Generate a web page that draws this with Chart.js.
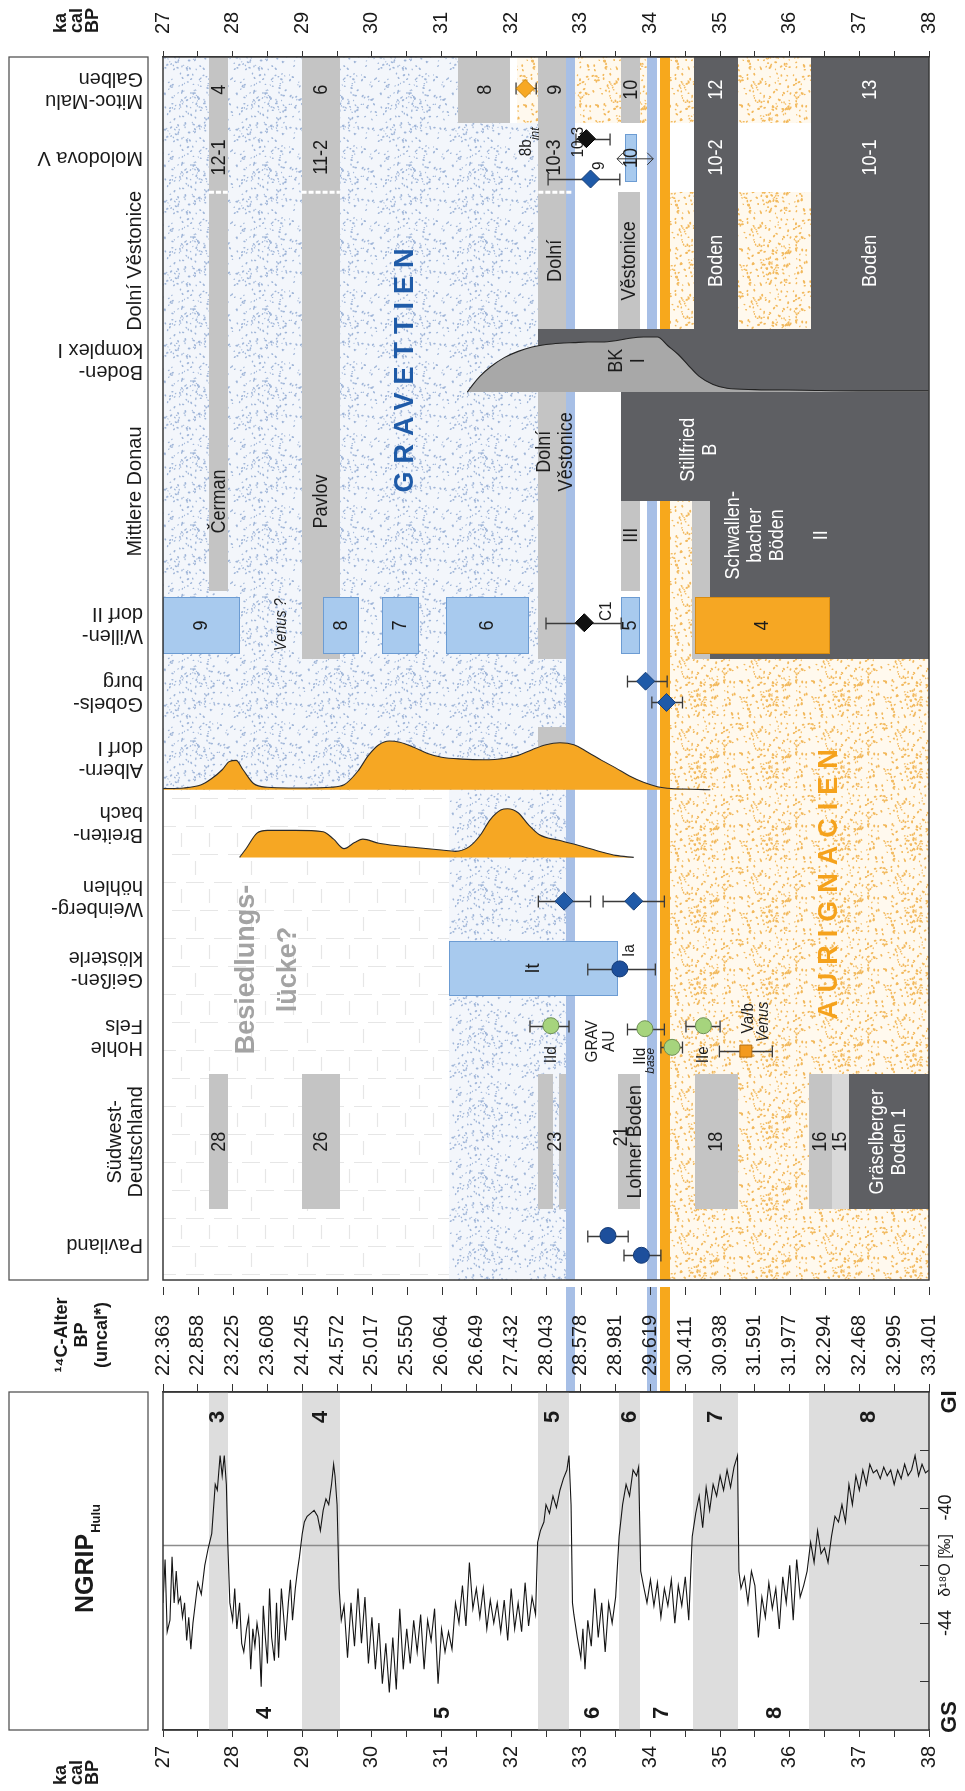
<!DOCTYPE html>
<html lang="de">
<head>
<meta charset="utf-8">
<title>NGRIP, Radiokarbon und Fundstellen 27–38 ka cal BP</title>
<script src="https://cdn.jsdelivr.net/npm/chart.js@4.4.1/dist/chart.umd.min.js"></script>
<style>
  html, body { margin: 0; padding: 0; background: #fff; }
  #sheet { position: relative; width: 965px; height: 1791px; overflow: hidden; background: #fff; }
  #sheet canvas { position: absolute; left: 0; }
</style>
</head>
<body>
<div id="sheet">
  <canvas id="sites" width="965" height="1290" style="top:0"></canvas>
  <canvas id="ngrip" width="965" height="504" style="top:1287px"></canvas>
</div>
<script>
const SANS = "'Liberation Sans', Arial, Helvetica, sans-serif";

// ---------- time axis (ka cal BP) ----------
const kaLabels = ['27', '28', '29', '30', '31', '32', '33', '34', '35', '36', '37', '38'];
// uncalibrated 14C ages at every half ka cal BP from 27 to 38
const c14Labels = ['22.363', '22.858', '23.225', '23.608', '24.245', '24.572', '25.017', '25.550',
  '26.064', '26.649', '27.432', '28.043', '28.578', '28.981', '29.619', '30.411', '30.938',
  '31.591', '31.977', '32.294', '32.468', '32.995', '33.401'];

// ---------- sites (rows of the upper panel) ----------
const sites = ['Mitoc-Malu Galben', 'Molodova V', 'Dolní Věstonice', 'Boden-komplex I', 'Mittlere Donau',
  'Willendorf II', 'Gobelsburg', 'Alberndorf I', 'Breitenbach', 'Weinberghöhlen', 'Geißenklösterle',
  'Hohle Fels', 'Südwest-Deutschland', 'Paviland'];
const siteHeaders = ['Mitoc-Malu\nGalben', 'Molodova V', 'Dolní Věstonice', 'Boden-\nkomplex I', 'Mittlere Donau',
  'Willen-\ndorf II', 'Gobels-\nburg', 'Albern-\ndorf I', 'Breiten-\nbach', 'Weinberg-\nhöhlen', 'Geißen-\nklösterle',
  'Hohle\nFels', 'Südwest-\nDeutschland', 'Paviland'];

// ---------- cultural background, ka ranges over row spans [from, to, firstRow, endRow] ----------
const gravettianSpans = [[27.00, 32.87, 0, 8], [31.10, 32.87, 8, 14]];
const gapSpans = [[27.00, 31.10, 8, 14]];
const aurignacianSpans = [[34.28, 38.00, 6, 14], [34.28, 34.65, 4.55, 6], [32.08, 32.39, 0, 1],
  [32.87, 33.58, 0, 1], [33.85, 33.96, 0, 1], [34.28, 34.63, 0, 1], [35.26, 36.30, 0, 1],
  [34.28, 34.62, 2, 3], [35.26, 36.30, 2, 3]];
const openSpans = [[31.99, 32.08, 0, 1]];
// event markers running through all panels
const markerLines = [[32.79, 32.91, 'blue'], [33.95, 34.10, 'blue'], [34.14, 34.28, 'orange']];

// ---------- stratigraphic units ----------
const loessUnits = [[27.66, 27.93, 0, 5], [28.99, 29.54, 0, 6], [31.24, 31.99, 0, 1], [32.39, 32.87, 0, 3],
  [32.39, 32.87, 4, 6], [33.58, 33.85, 0, 1], [33.54, 33.85, 2, 3], [33.58, 33.85, 4.55, 5],
  [34.60, 34.85, 4.55, 6], [32.39, 32.87, 7, 7.55], [27.66, 27.93, 12, 13], [28.99, 29.54, 12, 13],
  [32.39, 32.60, 12, 13], [32.68, 32.87, 12, 13], [33.54, 33.85, 12, 13], [34.64, 35.26, 12, 13],
  [36.28, 36.60, 12, 13]];
const paleLoessUnits = [[36.60, 36.85, 12, 13]];
const soilUnits = [[34.62, 35.26, 0, 3], [36.30, 38.00, 0, 3], [32.39, 38.00, 3, 4], [33.58, 38.00, 4, 4.55],
  [34.85, 38.00, 4.55, 6], [36.85, 38.00, 12, 13]];

// ---------- archaeological horizons ----------
const blueBoxes = [[27.00, 28.10, 'Willendorf II', '9'], [29.30, 29.81, 'Willendorf II', '8'],
  [30.14, 30.67, 'Willendorf II', '7'], [31.06, 32.26, 'Willendorf II', '6'], [33.58, 33.85, 'Willendorf II', '5'],
  [31.11, 33.54, 'Geißenklösterle', 'It'], [33.63, 33.80, 'Molodova V', '10']];
const orangeBoxes = [[34.64, 36.58, 'Willendorf II', '4']];

// ---------- dated horizons (ka cal BP with range) ----------
const dateSite = ['Mitoc-Malu Galben', 'Molodova V', 'Molodova V', 'Willendorf II', 'Gobelsburg', 'Gobelsburg',
  'Weinberghöhlen', 'Weinberghöhlen', 'Geißenklösterle', 'Hohle Fels', 'Hohle Fels', 'Hohle Fels',
  'Hohle Fels', 'Hohle Fels', 'Paviland', 'Paviland'];
const dateAge = [32.20, 33.08, 33.14, 33.05, 33.93, 34.23, 32.76, 33.76, 33.56, 32.57, 33.92, 34.31, 34.76, 35.37, 33.39, 33.87];
const dateLow = [32.07, 32.93, 32.53, 32.50, 33.67, 34.02, 32.39, 33.32, 33.10, 32.27, 33.67, 34.15, 34.51, 34.99, 33.10, 33.62];
const dateHigh = [32.36, 33.42, 33.56, 33.58, 34.24, 34.46, 33.14, 34.20, 34.07, 32.83, 34.20, 34.46, 35.00, 35.75, 33.68, 34.15];
const dateKind = ['orangeDiamond', 'blackDiamond', 'blueDiamond', 'blackDiamond', 'blueDiamond', 'blueDiamond',
  'blueDiamond', 'blueDiamond', 'blueCircle', 'greenCircle', 'greenCircle', 'greenCircle', 'greenCircle',
  'orangeSquare', 'blueCircle', 'blueCircle'];

// ---------- summed date densities (relative height) ----------
const albernAge = [27.00, 27.30, 27.55, 27.70, 27.85, 27.95, 28.05, 28.15, 28.30, 28.50, 28.80, 29.10, 29.40, 29.60, 29.80,
  29.95, 30.10, 30.25, 30.40, 30.60, 30.80, 31.00, 31.30, 31.60, 31.90, 32.10, 32.30, 32.50, 32.70, 32.90,
  33.10, 33.30, 33.50, 33.70, 33.90, 34.10, 34.30, 34.60, 34.86];
const albernDensity = [0.02, 0.03, 0.08, 0.18, 0.32, 0.45, 0.47, 0.32, 0.10, 0.04, 0.03, 0.03, 0.04, 0.08, 0.30,
  0.55, 0.72, 0.78, 0.76, 0.68, 0.58, 0.52, 0.49, 0.48, 0.50, 0.55, 0.64, 0.72, 0.75, 0.72,
  0.60, 0.47, 0.35, 0.22, 0.12, 0.05, 0.02, 0.01, 0.00];
const breitenAge = [28.10, 28.20, 28.35, 28.50, 28.90, 29.30, 29.45, 29.60, 29.75, 29.87, 30.10, 30.40, 30.70, 31.00,
  31.20, 31.40, 31.55, 31.70, 31.85, 31.95, 32.10, 32.25, 32.40, 32.70, 33.00, 33.30, 33.50, 33.76];
const breitenDensity = [0.00, 0.14, 0.36, 0.40, 0.40, 0.38, 0.27, 0.13, 0.22, 0.27, 0.21, 0.17, 0.14, 0.11,
  0.09, 0.16, 0.32, 0.56, 0.70, 0.72, 0.66, 0.48, 0.34, 0.25, 0.17, 0.08, 0.03, 0.00];
const bkAge = [31.37, 31.45, 31.55, 31.70, 31.90, 32.10, 32.30, 32.50, 32.70, 32.90, 33.10, 33.30, 33.50, 33.70,
  33.90, 34.10, 34.25, 34.40, 34.55, 34.70, 34.90, 35.10, 35.50, 36.20, 37.00, 38.00];
const bkDensity = [0.00, 0.12, 0.25, 0.40, 0.55, 0.65, 0.72, 0.76, 0.78, 0.79, 0.80, 0.80, 0.82, 0.86,
  0.88, 0.88, 0.74, 0.60, 0.42, 0.25, 0.12, 0.06, 0.04, 0.03, 0.02, 0.02];

// ---------- NGRIP (Hulu timescale): [ka cal BP, δ18O ‰] ----------
const ngripRecord = [
  [27.00,-43.3],[27.03,-41.8],[27.06,-44.3],[27.10,-43.9],[27.13,-41.7],[27.16,-43.3],[27.19,-42.2],[27.22,-43.3],
  [27.25,-43.1],[27.28,-43.8],[27.31,-43.3],[27.34,-44.6],[27.37,-43.8],[27.40,-44.9],[27.43,-44.0],[27.46,-43.4],
  [27.50,-42.6],[27.55,-43.0],[27.60,-42.0],[27.65,-41.4],[27.70,-40.9],[27.75,-39.2],[27.78,-39.4],[27.82,-38.2],
  [27.85,-38.9],[27.88,-38.2],[27.91,-39.2],[27.93,-41.2],[27.96,-43.3],[28.00,-43.9],[28.03,-42.8],[28.06,-44.2],
  [28.10,-43.3],[28.13,-44.7],[28.16,-45.0],[28.20,-44.2],[28.23,-43.8],[28.26,-45.6],[28.29,-44.2],[28.32,-44.8],
  [28.35,-44.0],[28.38,-44.5],[28.41,-46.2],[28.44,-43.4],[28.47,-44.5],[28.50,-45.4],[28.53,-42.8],[28.56,-44.5],
  [28.60,-45.3],[28.63,-43.3],[28.66,-45.2],[28.70,-42.8],[28.73,-43.7],[28.76,-44.6],[28.80,-43.3],[28.83,-42.5],
  [28.86,-43.9],[28.90,-42.8],[28.93,-42.2],[28.96,-41.7],[29.00,-40.9],[29.03,-40.5],[29.07,-40.3],[29.12,-40.2],
  [29.17,-40.1],[29.22,-40.3],[29.26,-40.8],[29.30,-40.1],[29.34,-39.7],[29.38,-39.9],[29.42,-39.2],[29.45,-38.5],
  [29.47,-38.9],[29.50,-39.9],[29.53,-42.8],[29.56,-43.9],
  [29.60,-43.4],[29.65,-45.2],[29.70,-43.3],[29.75,-44.8],[29.80,-42.8],[29.85,-44.7],[29.90,-43.1],[29.95,-45.4],
  [30.00,-43.8],[30.05,-45.6],[30.10,-44.0],[30.15,-46.1],[30.20,-44.7],[30.25,-46.4],[30.30,-44.5],[30.35,-46.3],
  [30.40,-43.5],[30.45,-45.6],[30.50,-44.2],[30.55,-45.4],[30.60,-43.9],[30.65,-45.0],[30.70,-43.7],[30.75,-45.6],
  [30.80,-43.9],[30.85,-44.6],[30.90,-43.5],[30.95,-46.1],[31.00,-44.2],[31.05,-45.0],[31.10,-44.3],[31.15,-44.9],
  [31.20,-43.3],[31.25,-44.0],[31.30,-42.7],[31.35,-44.1],[31.40,-41.9],[31.45,-43.5],[31.50,-42.8],[31.55,-43.8],
  [31.60,-42.8],[31.65,-44.2],[31.70,-43.2],[31.75,-44.0],[31.80,-43.3],[31.85,-44.3],[31.90,-43.2],[31.95,-44.6],
  [32.00,-42.8],[32.05,-44.2],[32.10,-43.3],[32.15,-44.3],[32.20,-42.6],[32.25,-44.1],[32.30,-43.1],[32.35,-43.7],
  [32.38,-41.2],[32.42,-40.8],[32.47,-40.5],[32.50,-39.9],[32.55,-40.2],[32.60,-39.6],[32.65,-40.0],[32.70,-39.4],
  [32.75,-39.0],[32.80,-38.7],[32.83,-38.2],[32.86,-39.9],[32.88,-43.3],[32.90,-43.7],[32.95,-44.5],[33.00,-45.2],
  [33.03,-44.2],[33.06,-45.6],[33.10,-43.9],[33.15,-44.8],[33.20,-42.8],[33.25,-44.5],[33.30,-43.3],[33.35,-45.0],
  [33.40,-43.3],[33.45,-44.0],[33.50,-43.1],[33.55,-41.0],[33.60,-39.9],[33.65,-39.2],[33.70,-39.6],[33.75,-38.7],
  [33.80,-38.9],[33.83,-38.6],[33.86,-42.2],[33.90,-42.7],[33.95,-43.3],[34.00,-42.5],[34.05,-43.4],[34.10,-42.6],
  [34.15,-43.8],[34.20,-42.8],[34.25,-43.4],[34.30,-42.5],[34.35,-44.0],[34.40,-42.7],[34.45,-43.4],[34.50,-42.4],
  [34.55,-43.9],[34.60,-41.0],[34.65,-40.2],[34.70,-39.6],[34.75,-40.7],[34.80,-39.3],[34.85,-40.1],[34.90,-39.2],
  [34.95,-39.6],[35.00,-38.9],[35.05,-39.4],[35.10,-38.7],[35.15,-39.3],[35.20,-38.6],[35.25,-38.2],[35.27,-42.2],
  [35.30,-42.8],[35.35,-42.4],[35.40,-43.3],[35.45,-42.2],[35.50,-42.7],[35.55,-44.5],[35.60,-43.1],[35.65,-43.8],
  [35.70,-42.6],[35.75,-43.5],[35.80,-42.8],[35.85,-44.2],[35.90,-42.4],[35.95,-43.3],[36.00,-42.0],[36.05,-43.9],
  [36.10,-41.8],[36.15,-43.1],[36.20,-42.7],[36.25,-42.2],[36.30,-41.2],[36.35,-41.9],[36.40,-40.8],[36.45,-41.6],
  [36.50,-41.4],[36.55,-41.9],[36.60,-41.0],[36.65,-40.3],[36.70,-40.5],[36.75,-39.9],[36.80,-40.5],[36.85,-39.2],
  [36.90,-39.9],[36.95,-38.9],[37.00,-39.4],[37.05,-38.7],[37.10,-39.2],[37.15,-38.5],[37.20,-38.8],[37.25,-38.7],
  [37.30,-39.0],[37.35,-38.6],[37.40,-38.9],[37.45,-38.7],[37.50,-39.2],[37.55,-38.7],[37.60,-39.0],[37.65,-38.5],
  [37.70,-38.9],[37.75,-38.7],[37.80,-38.2],[37.85,-38.9],[37.90,-38.5],[37.95,-38.8],[38.00,-38.7]];
// Greenland interstadials (shaded) and stadials
const giIntervals = [[27.66, 27.93, '3'], [28.99, 29.54, '4'], [32.38, 32.83, '5'], [33.55, 33.85, '6'], [34.61, 35.26, '7'], [36.28, 38.00, '8']];
const gsLabels = [[28.46, '4'], [31.02, '5'], [33.17, '6'], [34.16, '7'], [35.79, '8']];
const d18OThreshold = -41.3;
const d18OTicks = [-38, -40, -42, -44, -46];

// ================= layout & style =================
const rowWeights = [66, 70, 138, 63, 200, 68, 69, 63, 68, 80, 63, 75, 136, 71];
const rowEdges = rowWeights.reduce((a, w) => { a.push(a[a.length - 1] + w); return a; }, [0]);
const rowTotal = rowEdges[rowEdges.length - 1];
function rowPos(r) {
  const i = Math.min(Math.floor(r), rowWeights.length - 1);
  return rowEdges[i] + (r - i) * rowWeights[i];
}
const headerTurn = ['flip', 'flip', 'up', 'flip', 'up', 'flip', 'flip', 'flip', 'flip', 'flip', 'flip', 'flip', 'up', 'flip'];
const blueBoxLane = [[0.09, 0.93], [0.09, 0.93], [0.09, 0.93], [0.09, 0.93], [0.09, 0.93], [0.06, 0.95], [0.17, 0.86]];
const orangeBoxLane = [[0.09, 0.93]];
const dateLane = [0.48, 0.23, 0.81, 0.47, 0.33, 0.64, 0.55, 0.55, 0.51, 0.35, 0.39, 0.64, 0.35, 0.69, 0.37, 0.65];

const C = {
  loess: '#c4c4c4', paleLoess: '#d9d9d9', soil: '#5e5f63',
  blueBox: '#a8caee', blueBoxEdge: '#6c9cd3', orangeBox: '#f6a723', orangeBoxEdge: '#d98c10',
  blueLine: '#a7bfe6', orangeLine: '#f7a81c', frame: '#3a3a3a', text: '#1c1c1c', giBand: '#dddddd'
};
const markStyle = {
  blueDiamond: { pointStyle: 'rectRot', pointRadius: 9, backgroundColor: '#1f5aa8', borderColor: '#173f77' },
  blackDiamond: { pointStyle: 'rectRot', pointRadius: 9, backgroundColor: '#111111', borderColor: '#000000' },
  orangeDiamond: { pointStyle: 'rectRot', pointRadius: 9, backgroundColor: '#f7a823', borderColor: '#c9860f' },
  blueCircle: { pointStyle: 'circle', pointRadius: 8, backgroundColor: '#1d4f9c', borderColor: '#143a75' },
  greenCircle: { pointStyle: 'circle', pointRadius: 8, backgroundColor: '#a6d47d', borderColor: '#6d8f55' },
  orangeSquare: { pointStyle: 'rect', pointRadius: 8.5, backgroundColor: '#f39a1e', borderColor: '#b56d0c' }
};
const labelStyles = {
  k: { size: 21, squeeze: 0.86, lineH: 22 },
  w: { size: 21, squeeze: 0.86, lineH: 22, color: '#ffffff' },
  s: { size: 17, squeeze: 0.9, lineH: 17 },
  si: { size: 16, style: 'italic', squeeze: 0.9 },
  xi: { size: 12, style: 'italic' },
  gap: { size: 27, weight: 'bold', color: '#a3a3a3', lineH: 42 },
  grav: { size: 27, weight: 'bold', color: '#1f5ba8', spacing: 8 },
  aur: { size: 27, weight: 'bold', color: '#f5a21c', spacing: 8 },
  tick: { size: 20, color: '#1a1a1a', align: 'left' }
};
// text written into the upper panel: [ka, row position, text, style]
const unitLabels = [
  [27.80, 0.5, '4', 'k'], [29.27, 0.5, '6', 'k'], [31.62, 0.5, '8', 'k'], [32.63, 0.5, '9', 'k'],
  [33.72, 0.5, '10', 'k'], [34.94, 0.5, '12', 'w'], [37.15, 0.5, '13', 'w'],
  [32.22, 1.36, '8b', 's'], [32.35, 1.16, 'int', 'xi'],
  [27.80, 1.5, '12-1', 'k'], [29.27, 1.5, '11-2', 'k'], [32.62, 1.5, '10-3', 'k'], [32.96, 1.28, '10-3', 's'],
  [33.27, 1.62, '9', 's'], [34.94, 1.5, '10-2', 'w'], [37.15, 1.5, '10-1', 'w'],
  [32.63, 2.5, 'Dolní', 'k'], [33.70, 2.5, 'Věstonice', 'k'], [34.94, 2.5, 'Boden', 'w'], [37.15, 2.5, 'Boden', 'w'],
  [33.66, 3.5, 'BK\nI', 'k'],
  [27.80, 4.55, 'Čerman', 'k'], [29.27, 4.55, 'Pavlov', 'k'], [32.63, 4.3, 'Dolní\nVěstonice', 'k'],
  [34.70, 4.29, 'Stillfried\nB', 'w'], [33.72, 4.72, 'III', 'k'], [35.50, 4.72, 'Schwallen-\nbacher\nBöden', 'w'],
  [36.45, 4.72, 'II', 'w'],
  [33.37, 5.3, 'C1', 's'], [28.70, 5.5, 'Venus ?', 'si'],
  [33.70, 10.22, 'Ia', 's'],
  [33.28, 11.56, 'GRAV\nAU', 's'], [32.57, 11.74, 'IId', 's'], [33.85, 11.76, 'IId', 's'], [34.00, 11.82, 'base', 'xi'],
  [34.76, 11.74, 'IIe', 's'], [35.40, 11.25, 'Va/b', 's'], [35.62, 11.3, 'Venus', 'si'],
  [27.80, 12.5, '28', 'k'], [29.27, 12.5, '26', 'k'], [32.63, 12.5, '23', 'k'], [33.58, 12.46, '21', 'k'],
  [33.78, 12.5, 'Lohner Boden', 'k'], [34.95, 12.5, '18', 'k'], [36.44, 12.5, '16', 'k'], [36.72, 12.5, '15', 'k'],
  [37.42, 12.5, 'Gräselberger\nBoden 1', 'w'],
  [28.50, 10.52, 'Besiedlungs-\nlücke?', 'gap'],
  [30.48, 3.59, 'GRAVETTIEN', 'grav'], [36.57, 9.29, 'AURIGNACIEN', 'aur']
];

// ================= drawing helpers =================
function txt(ctx, text, x, y, o) {
  const { size = 20, weight = '', style = '', color = C.text, align = 'center', rot = -Math.PI / 2,
    lineH = size * 1.05, squeeze = 1, spacing = 0, family = SANS } = o || {};
  ctx.save();
  ctx.translate(x, y);
  ctx.rotate(rot);
  ctx.scale(squeeze, 1);
  ctx.font = `${style} ${weight} ${size}px ${family}`.replace(/\s+/g, ' ').trim();
  if (spacing) ctx.letterSpacing = spacing + 'px';
  ctx.fillStyle = color;
  ctx.textAlign = align;
  ctx.textBaseline = 'middle';
  const lines = String(text).split('\n');
  lines.forEach((ln, i) => ctx.fillText(ln, 0, (i - (lines.length - 1) / 2) * lineH));
  ctx.restore();
}
function lcg(seed) { let s = seed; return () => (s = (s * 16807) % 2147483647) / 2147483647; }
function dotTile(bg, dot, n, seed, rMin, rMax) {
  const c = document.createElement('canvas'); c.width = 72; c.height = 72;
  const g = c.getContext('2d');
  g.fillStyle = bg; g.fillRect(0, 0, 72, 72); g.fillStyle = dot;
  const rnd = lcg(seed);
  for (let i = 0; i < n; i++) {
    const x = 1.5 + rnd() * 69, y = 1.5 + rnd() * 69, r = rMin + rnd() * (rMax - rMin), a = rnd() * Math.PI;
    g.beginPath(); g.ellipse(x, y, r * 1.5, r, a, 0, Math.PI * 2); g.fill();
  }
  return c;
}
function brickTile() {
  const c = document.createElement('canvas'); c.width = 56; c.height = 56;
  const g = c.getContext('2d');
  g.fillStyle = '#ffffff'; g.fillRect(0, 0, 56, 56);
  g.strokeStyle = '#e6e6e6'; g.lineWidth = 1.2;
  g.beginPath();
  g.moveTo(4, 14.5); g.lineTo(22, 14.5); g.moveTo(32, 14.5); g.lineTo(50, 14.5);
  g.moveTo(0, 42.5); g.lineTo(8, 42.5); g.moveTo(18, 42.5); g.lineTo(36, 42.5); g.moveTo(46, 42.5); g.lineTo(56, 42.5);
  g.moveTo(27.5, 21); g.lineTo(27.5, 35); g.moveTo(13.5, 49); g.lineTo(13.5, 56); g.moveTo(13.5, 0); g.lineTo(13.5, 7);
  g.moveTo(41.5, 49); g.lineTo(41.5, 56); g.moveTo(41.5, 0); g.lineTo(41.5, 7);
  g.stroke();
  return c;
}
let PAT = null;
function patterns(ctx) {
  if (!PAT) {
    PAT = {
      grav: ctx.createPattern(dotTile('#f3f6fb', '#9fb5d8', 200, 11, 0.5, 0.95), 'repeat'),
      aur: ctx.createPattern(dotTile('#fff9ee', '#f2b95d', 230, 23, 0.55, 1.05), 'repeat'),
      brick: ctx.createPattern(brickTile(), 'repeat')
    };
  }
  return PAT;
}
function rowRect(chart, k0, k1, r0, r1) {
  const xs = chart.scales.x, ys = chart.scales.y;
  const x0 = Math.round(xs.getPixelForValue(k0)), x1 = Math.round(xs.getPixelForValue(k1));
  const y0 = Math.round(ys.getPixelForValue(rowPos(r0))), y1 = Math.round(ys.getPixelForValue(rowPos(r1)));
  return [x0, y0, x1 - x0, y1 - y0];
}
function drawKaTitle(ctx, yStart) {
  ['ka', 'cal', 'BP'].forEach((t, i) => txt(ctx, t, 61 + i * 16, yStart, { size: 18, weight: 'bold', align: 'left', color: '#1a1a1a' }));
}
// rotated tick labels written along a top axis, reading upward from just above the tick marks
function topTickLabels(ctx, scale, labelFor, yStart) {
  scale.ticks.forEach(t => {
    const label = labelFor(t.value);
    if (label) txt(ctx, label, scale.getPixelForValue(t.value), yStart, labelStyles.tick);
  });
}

// ================= upper panel: sites =================
const sitesPlugin = {
  id: 'sitesLayers',
  beforeDatasetsDraw(chart) {
    const { ctx, chartArea: ca } = chart;
    const xs = chart.scales.x, ys = chart.scales.y;
    const P = patterns(ctx);
    ctx.save();
    ctx.beginPath(); ctx.rect(ca.left, ca.top, ca.right - ca.left, ca.bottom - ca.top); ctx.clip();
    const fillSpans = (list, style) => list.forEach(s => {
      const [x, y, w, h] = rowRect(chart, s[0], s[1], s[2], s[3]);
      ctx.fillStyle = style; ctx.fillRect(x, y, w, h);
    });
    fillSpans(gravettianSpans, P.grav);
    fillSpans(gapSpans, P.brick);
    fillSpans(aurignacianSpans, P.aur);
    fillSpans(openSpans, '#ffffff');
    fillSpans(loessUnits, C.loess);
    fillSpans(paleLoessUnits, C.paleLoess);
    markerLines.forEach(([a, b, c]) => {
      const [x, y, w, h] = rowRect(chart, a, b, 0, sites.length);
      ctx.fillStyle = C[c + 'Line']; ctx.fillRect(x, y, w, h);
    });
    fillSpans(soilUnits, C.soil);

    // white dashed break between the Molodova and Dolní Věstonice sections of the long loess bars
    ctx.strokeStyle = '#ffffff'; ctx.lineWidth = 3; ctx.setLineDash([5, 2]);
    loessUnits.filter(u => u[2] < 2 && u[3] > 2).forEach(u => {
      const y = ys.getPixelForValue(rowPos(2));
      ctx.beginPath(); ctx.moveTo(xs.getPixelForValue(u[0]), y); ctx.lineTo(xs.getPixelForValue(u[1]), y); ctx.stroke();
    });
    ctx.setLineDash([]);

    // archaeological horizons
    const drawBoxes = (list, lanes, fill, edge) => list.forEach((b, i) => {
      const row = sites.indexOf(b[2]);
      const [x, y, w, h] = rowRect(chart, b[0], b[1], row + lanes[i][0], row + lanes[i][1]);
      ctx.fillStyle = fill; ctx.fillRect(x, y, w, h);
      ctx.strokeStyle = edge; ctx.lineWidth = 1; ctx.strokeRect(x + 0.5, y + 0.5, w - 1, h - 1);
      txt(ctx, b[3], (x + x + w) / 2, y + h / 2, labelStyles.k);
    });
    drawBoxes(blueBoxes, blueBoxLane, C.blueBox, C.blueBoxEdge);
    drawBoxes(orangeBoxes, orangeBoxLane, C.orangeBox, C.orangeBoxEdge);

    // double arrow beside Molodova horizon 10
    {
      const row = sites.indexOf('Molodova V');
      const y = ys.getPixelForValue(rowPos(row + 0.52));
      const xa = xs.getPixelForValue(33.52), xb = xs.getPixelForValue(34.04);
      ctx.strokeStyle = '#333'; ctx.lineWidth = 1;
      ctx.beginPath(); ctx.moveTo(xa, y); ctx.lineTo(xb, y);
      ctx.moveTo(xa + 6, y - 6); ctx.lineTo(xa, y); ctx.lineTo(xa + 6, y + 6);
      ctx.moveTo(xb - 6, y - 6); ctx.lineTo(xb, y); ctx.lineTo(xb - 6, y + 6);
      ctx.stroke();
    }

    // date ranges
    ctx.strokeStyle = '#3a3a3a'; ctx.lineWidth = 1.3;
    dateAge.forEach((a, i) => {
      const row = sites.indexOf(dateSite[i]);
      const y = Math.round(ys.getPixelForValue(rowPos(row + dateLane[i]))) + 0.5;
      const x0 = xs.getPixelForValue(dateLow[i]), x1 = xs.getPixelForValue(dateHigh[i]);
      ctx.beginPath();
      ctx.moveTo(x0, y); ctx.lineTo(x1, y);
      ctx.moveTo(x0, y - 6); ctx.lineTo(x0, y + 6);
      ctx.moveTo(x1, y - 6); ctx.lineTo(x1, y + 6);
      ctx.stroke();
    });
    ctx.restore();
  },
  afterDatasetsDraw(chart) {
    const { ctx } = chart;
    const xs = chart.scales.x, ys = chart.scales.y;
    unitLabels.forEach(([k, r, t, s]) => txt(ctx, t, xs.getPixelForValue(k), ys.getPixelForValue(rowPos(r)), labelStyles[s]));
  },
  afterDraw(chart) {
    const { ctx, chartArea: ca } = chart;
    const xs = chart.scales.x, ys = chart.scales.y;
    ctx.save();
    ctx.strokeStyle = C.frame; ctx.lineWidth = 1.5;
    ctx.strokeRect(ca.left, ca.top, ca.right - ca.left, ca.bottom - ca.top);
    // site header box
    ctx.strokeStyle = '#555'; ctx.lineWidth = 1.3;
    ctx.strokeRect(9, ca.top, 139, ca.bottom - ca.top);
    ctx.restore();
    siteHeaders.forEach((h, i) => {
      const yc = ys.getPixelForValue(rowPos(i + 0.5));
      if (headerTurn[i] === 'up') {
        const lines = h.split('\n').length;
        txt(ctx, h, lines > 1 ? 126 : 135, yc, { size: 20, lineH: 21, color: '#1a1a1a' });
      } else {
        txt(ctx, h, 143, yc, { size: 20, lineH: 22, rot: Math.PI, align: 'left', color: '#1a1a1a' });
      }
    });
    topTickLabels(ctx, xs, v => Number.isInteger(v) ? kaLabels[v - 27] : '', ca.top - 23);
    drawKaTitle(ctx, 33);
  }
};

function ridge(ages, dens, row, fill, edge) {
  return {
    type: 'line',
    data: ages.map((a, i) => ({ x: a, y: rowEdges[row + 1] - dens[i] * rowWeights[row] })),
    fill: { value: rowEdges[row + 1] },
    backgroundColor: fill, borderColor: edge, borderWidth: 1.1,
    pointRadius: 0, cubicInterpolationMode: 'monotone', order: 5
  };
}
const ridgeSets = [
  ridge(albernAge, albernDensity, sites.indexOf('Alberndorf I'), C.orangeBox, '#2a2a2a'),
  ridge(breitenAge, breitenDensity, sites.indexOf('Breitenbach'), C.orangeBox, '#2a2a2a'),
  ridge(bkAge, bkDensity, sites.indexOf('Boden-komplex I'), '#a8a8a8', '#222222')
];
const pointSets = Object.keys(markStyle).map(kind => Object.assign({
  type: 'scatter',
  data: dateAge.map((a, i) => ({ x: a, y: rowPos(sites.indexOf(dateSite[i]) + dateLane[i]), kind: dateKind[i] }))
    .filter(p => p.kind === kind),
  borderWidth: 1, order: 0
}, markStyle[kind]));

Chart.defaults.font.family = SANS;

new Chart(document.getElementById('sites'), {
  type: 'scatter',
  data: { datasets: [...pointSets, ...ridgeSets] },
  options: {
    responsive: false, animation: false, devicePixelRatio: 1,
    layout: { padding: { left: 163, right: 36, top: 0, bottom: 3 } },
    plugins: { legend: { display: false }, tooltip: { enabled: false } },
    scales: {
      x: {
        type: 'linear', position: 'top', min: 27, max: 38,
        ticks: { stepSize: 0.5, autoSkip: false, display: false },
        grid: { drawOnChartArea: false, tickLength: 6, color: '#333' },
        border: { display: true, color: '#333', width: 1.5 },
        afterFit(s) { s.height = 57; }
      },
      y: { type: 'linear', min: 0, max: rowTotal, reverse: true, display: false }
    }
  },
  plugins: [sitesPlugin]
});

// ================= lower panel: NGRIP =================
const ngripPlugin = {
  id: 'ngripDecor',
  beforeDraw(chart) {
    const { ctx, chartArea: ca } = chart;
    const xs = chart.scales.x;
    ctx.save();
    markerLines.forEach(([a, b, c]) => {
      const x0 = Math.round(xs.getPixelForValue(a)), x1 = Math.round(xs.getPixelForValue(b));
      ctx.fillStyle = C[c + 'Line']; ctx.fillRect(x0, 0, x1 - x0, ca.top);
    });
    ctx.strokeStyle = '#333'; ctx.lineWidth = 1;
    chart.scales.c14.ticks.forEach(t => {
      const px = Math.round(xs.getPixelForValue(t.value)) + 0.5;
      ctx.beginPath(); ctx.moveTo(px, 0); ctx.lineTo(px, 8); ctx.stroke();
    });
    ctx.restore();
  },
  beforeDatasetsDraw(chart) {
    const { ctx, chartArea: ca } = chart;
    const xs = chart.scales.x, ys = chart.scales.y;
    ctx.save();
    ctx.fillStyle = C.giBand;
    giIntervals.forEach(([a, b]) => {
      const x0 = Math.round(xs.getPixelForValue(a)), x1 = Math.round(xs.getPixelForValue(b));
      ctx.fillRect(x0, ca.top, x1 - x0, ca.bottom - ca.top);
    });
    const yt = Math.round(ys.getPixelForValue(d18OThreshold)) + 0.5;
    ctx.strokeStyle = '#8c8c8c'; ctx.lineWidth = 1.3;
    ctx.beginPath(); ctx.moveTo(ca.left, yt); ctx.lineTo(ca.right, yt); ctx.stroke();
    ctx.restore();
  },
  afterDraw(chart) {
    const { ctx, chartArea: ca } = chart;
    const xs = chart.scales.x, ys = chart.scales.y;
    ctx.save();
    ctx.strokeStyle = C.frame; ctx.lineWidth = 1.5;
    ctx.strokeRect(ca.left, ca.top, ca.right - ca.left, ca.bottom - ca.top);
    ctx.strokeStyle = '#555'; ctx.lineWidth = 1.3;
    ctx.strokeRect(9, ca.top, 139, ca.bottom - ca.top);
    // δ18O ticks pointing inward from the right edge
    ctx.strokeStyle = '#333'; ctx.lineWidth = 1;
    d18OTicks.forEach(v => {
      const y = Math.round(ys.getPixelForValue(v)) + 0.5;
      ctx.beginPath(); ctx.moveTo(ca.right - 9, y); ctx.lineTo(ca.right, y); ctx.stroke();
    });
    ctx.restore();

    // radiocarbon scale labels between the panels
    const c14 = chart.scales.c14;
    topTickLabels(ctx, c14, v => c14Labels[Math.round((v - 27) * 2)], ca.top - 16);

    txt(ctx, '-40', 946, ys.getPixelForValue(-40), { size: 18, color: '#1a1a1a' });
    txt(ctx, '-44', 946, ys.getPixelForValue(-44), { size: 18, color: '#1a1a1a' });
    txt(ctx, 'δ¹⁸O [‰]', 946, ys.getPixelForValue(-42), { size: 16, color: '#1a1a1a' });
    txt(ctx, 'GI', 950, ca.top + 10, { size: 22, weight: 'bold', color: '#1a1a1a' });
    txt(ctx, 'GS', 950, ca.bottom - 13, { size: 22, weight: 'bold', color: '#1a1a1a' });

    giIntervals.forEach(([a, b, t]) => txt(ctx, t, xs.getPixelForValue((a + b) / 2), ca.top + 25, { size: 22, weight: 'bold', color: '#1a1a1a' }));
    gsLabels.forEach(([a, t]) => txt(ctx, t, xs.getPixelForValue(a), ca.bottom - 17, { size: 22, weight: 'bold', color: '#1a1a1a' }));

    // panel titles
    ctx.save();
    ctx.translate(86, ca.top + 221);
    ctx.rotate(-Math.PI / 2);
    ctx.fillStyle = '#1a1a1a'; ctx.textBaseline = 'middle'; ctx.textAlign = 'left';
    ctx.font = `bold 25px ${SANS}`;
    ctx.fillText('NGRIP', 0, 0);
    const w = ctx.measureText('NGRIP').width;
    ctx.font = `bold 13px ${SANS}`;
    ctx.fillText('Hulu', w + 1, 10);
    ctx.restore();
    txt(ctx, '¹⁴C-Alter\nBP\n(uncal*)', 82, 48, { size: 18, weight: 'bold', lineH: 20, color: '#1a1a1a' });
    drawKaTitle(ctx, 498);
  }
};

new Chart(document.getElementById('ngrip'), {
  type: 'line',
  data: {
    datasets: [{
      data: ngripRecord.map(([a, v]) => ({ x: a, y: v })),
      borderColor: '#151515', borderWidth: 1.1, pointRadius: 0, tension: 0,
      xAxisID: 'x', yAxisID: 'y'
    }]
  },
  options: {
    responsive: false, animation: false, devicePixelRatio: 1,
    layout: { padding: { left: 163, right: 36, top: 0, bottom: 0 } },
    plugins: { legend: { display: false }, tooltip: { enabled: false } },
    scales: {
      x: {
        type: 'linear', position: 'bottom', min: 27, max: 38,
        ticks: {
          stepSize: 0.5, autoSkip: false, minRotation: 90, maxRotation: 90, padding: 9,
          font: { size: 20 }, color: '#1a1a1a',
          callback: v => Number.isInteger(v) ? kaLabels[v - 27] : ''
        },
        grid: { drawOnChartArea: false, tickLength: 7, color: '#333' },
        border: { display: true, color: '#333', width: 1.5 },
        afterFit(s) { s.height = 61; }
      },
      c14: {
        type: 'linear', position: 'top', min: 27, max: 38,
        ticks: { stepSize: 0.5, autoSkip: false, display: false },
        grid: { drawOnChartArea: false, tickLength: 8, color: '#333' },
        border: { display: true, color: '#333', width: 1.5 },
        afterFit(s) { s.height = 105; }
      },
      y: { type: 'linear', min: -47.7, max: -36, display: false }
    }
  },
  plugins: [ngripPlugin]
});
</script>
</body>
</html>
